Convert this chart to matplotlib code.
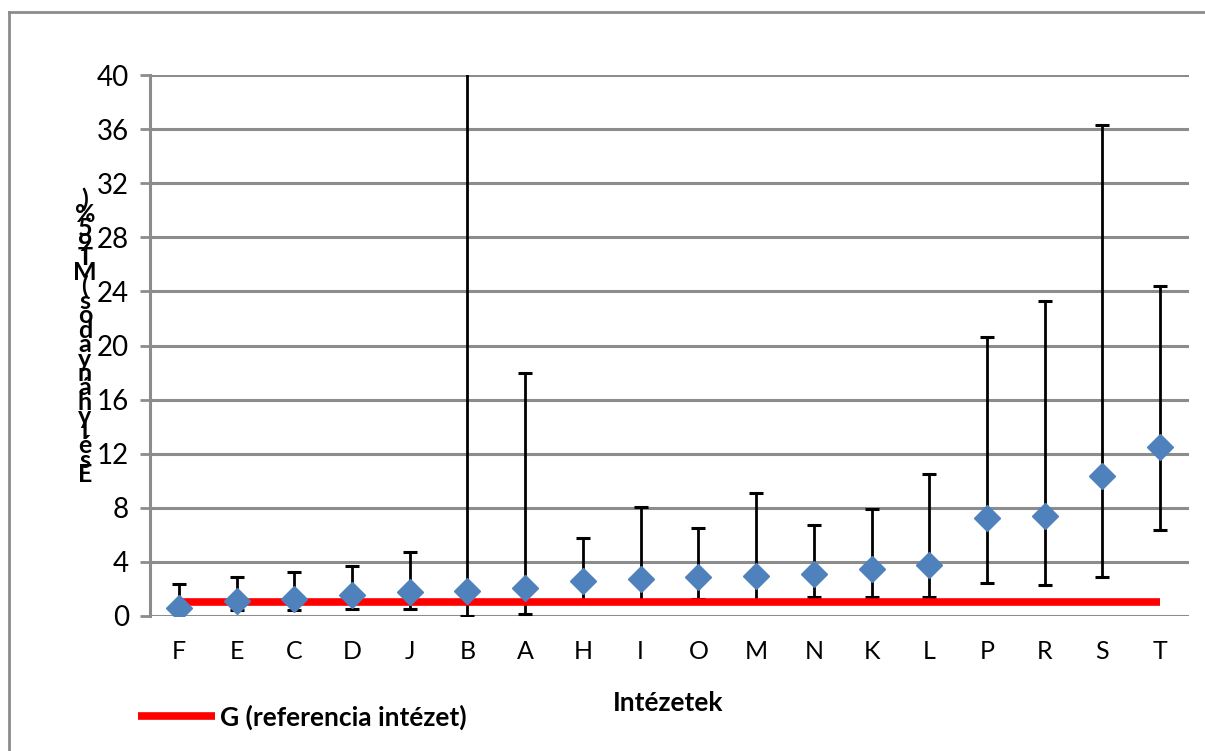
import matplotlib
matplotlib.use("Agg")
from matplotlib import pyplot as plt
from matplotlib.lines import Line2D

# category order as shown on the x axis
institutes = ['F', 'E', 'C', 'D', 'J', 'B', 'A', 'H', 'I', 'O', 'M', 'N', 'K', 'L', 'P', 'R', 'S', 'T']
# point estimates and confidence limits
odds = [0.61, 1.10, 1.25, 1.53, 1.77, 1.85, 2.04, 2.56, 2.73, 2.85, 2.97, 3.12, 3.47, 3.76, 7.26, 7.38, 10.33, 12.47]
lower = [0.25, 0.42, 0.42, 0.54, 0.54, 0.0, 0.17, 1.15, 1.13, 1.28, 1.12, 1.38, 1.38, 1.38, 2.44, 2.31, 2.88, 6.35]
upper = [2.34, 2.88, 3.22, 3.67, 4.70, 50.0, 18.0, 5.80, 8.04, 6.47, 9.13, 6.72, 7.92, 10.48, 20.6, 23.3, 36.3, 24.4]
reference_value = 1.0
y_ticks = [0, 4, 8, 12, 16, 20, 24, 28, 32, 36, 40]

y_label = 'Esélyhányados (MT95%)'
x_label = 'Intézetek'
legend_label = 'G (referencia intézet)'

W, H = 1205, 751
fig = plt.figure(figsize=(W / 100, H / 100), dpi=100)
ax = fig.add_axes([150 / W, 1 - 616 / H, (1189 - 150) / W, (616 - 75) / H])

font = 'Lato'
grey = '#8c8c8c'

x = list(range(len(institutes)))
err_low = [o - l for o, l in zip(odds, lower)]
err_high = [u - o for o, u in zip(odds, upper)]

ax.errorbar(x, odds, yerr=[err_low, err_high], fmt='none', ecolor='black',
            elinewidth=2, capsize=5, capthick=2.2, zorder=2)
ref_line, = ax.plot([x[0], x[-1]], [reference_value, reference_value],
                    color='#ff0000', lw=5.5, solid_capstyle='butt', zorder=3)
ax.plot(x, odds, linestyle='none', marker='D', markersize=13,
        color='#4f81bd', markeredgecolor='#4f81bd', zorder=4)

ax.set_xlim(-0.5, len(institutes) - 0.5)
ax.set_ylim(0, 40)
ax.set_yticks(y_ticks)
ax.set_xticks(x)
ax.set_xticklabels(institutes, fontfamily=font, fontsize=18)
ax.set_yticklabels([str(v) for v in y_ticks], fontfamily=font, fontsize=20)
ax.grid(axis='y', color=grey, lw=2.2)
ax.set_axisbelow(True)
for side in ['top', 'right', 'bottom']:
    ax.spines[side].set_visible(False)
ax.spines['left'].set_color(grey)
ax.spines['left'].set_linewidth(2.2)
ax.tick_params(axis='y', length=7, width=2, color=grey, pad=8)
ax.tick_params(axis='x', length=0, pad=17)

# x axis title
fig.text(668 / W, 1 - 703 / H, x_label, ha='center', va='center',
         fontfamily=font, fontsize=19, fontweight='bold')

# stacked y-axis title: characters piled up, first letter at the bottom
stacked = '\n'.join(reversed([c for c in y_label if c != ' ']))
fig.text(85 / W, 1 - 337 / H, stacked, ha='center', va='center', ma='center',
         fontfamily=font, fontsize=18, fontweight='bold', linespacing=0.55)

# legend at bottom left
fig.legend([ref_line], [legend_label], loc='center left',
           bbox_to_anchor=(138 / W, 1 - 717 / H), frameon=False,
           handlelength=2.9, handletextpad=0.2, borderpad=0, borderaxespad=0,
           prop={'family': font, 'size': 19, 'weight': 'bold'})

# outer chart border (left and top only visible)
fig.add_artist(Line2D([9 / W, 9 / W], [0, 1 - 12 / H], color=grey, lw=2))
fig.add_artist(Line2D([9 / W, 1], [1 - 12 / H, 1 - 12 / H], color=grey, lw=2))

fig.savefig('out.png', dpi=100)
